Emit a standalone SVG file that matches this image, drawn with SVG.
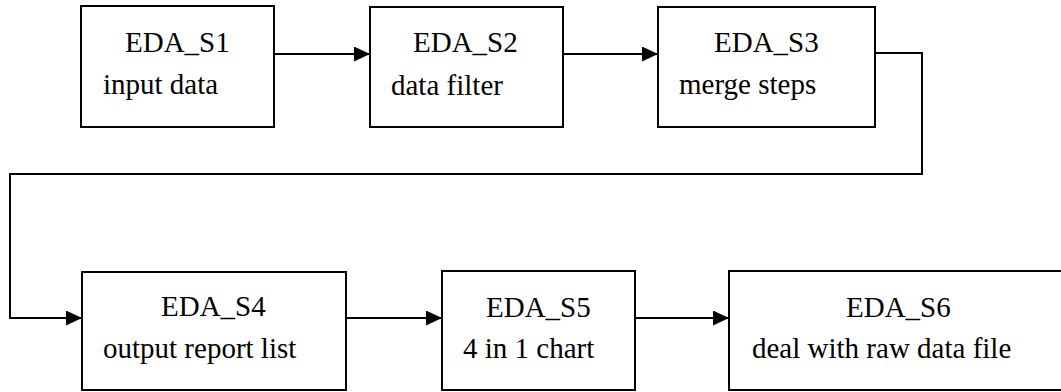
<svg xmlns="http://www.w3.org/2000/svg" width="1061" height="392" viewBox="0 0 1061 392">
<style>
.box{fill:#fff;stroke:#000;stroke-width:2}
.c{fill:none;stroke:#000;stroke-width:2}
</style>
<defs>
<marker id="ah" markerUnits="userSpaceOnUse" markerWidth="16" markerHeight="16" refX="16" refY="7.5" orient="auto">
<path d="M0,0 L16,7.5 L0,15 Z" fill="#000"/>
</marker>
</defs>
<rect width="1061" height="392" fill="#fff"/>
<g font-family="Liberation Serif, Times New Roman, serif" font-size="29" fill="#000">
<g id="n1"><rect class="box" x="81" y="6" width="193" height="121"/><text x="125" y="52">EDA_S1</text><text x="103" y="94">input data</text></g>
<g id="n2"><rect class="box" x="370" y="7" width="193" height="120"/><text x="413" y="52">EDA_S2</text><text x="391" y="95">data filter</text></g>
<g id="n3"><rect class="box" x="658" y="7" width="217" height="120"/><text x="714" y="52">EDA_S3</text><text x="679" y="94">merge steps</text></g>
<g id="n4"><rect class="box" x="82" y="272" width="264" height="118"/><text x="161" y="316">EDA_S4</text><text x="103" y="358">output report list</text></g>
<g id="n5"><rect class="box" x="442" y="271" width="193" height="119"/><text x="486" y="317">EDA_S5</text><text x="463" y="358">4 in 1 chart</text></g>
<g id="n6"><rect class="box" x="729" y="271" width="345" height="119"/><text x="846" y="317">EDA_S6</text><text x="752" y="358">deal with raw data file</text></g>
</g>
<g id="connectors">
<path class="c" d="M274,54 H370" marker-end="url(#ah)"/>
<path class="c" d="M563,54 H658" marker-end="url(#ah)"/>
<path class="c" d="M875,53 H922 V174 H10 V318 H82" marker-end="url(#ah)"/>
<path class="c" d="M346,318 H442" marker-end="url(#ah)"/>
<path class="c" d="M635,318 H729" marker-end="url(#ah)"/>
</g>
</svg>
